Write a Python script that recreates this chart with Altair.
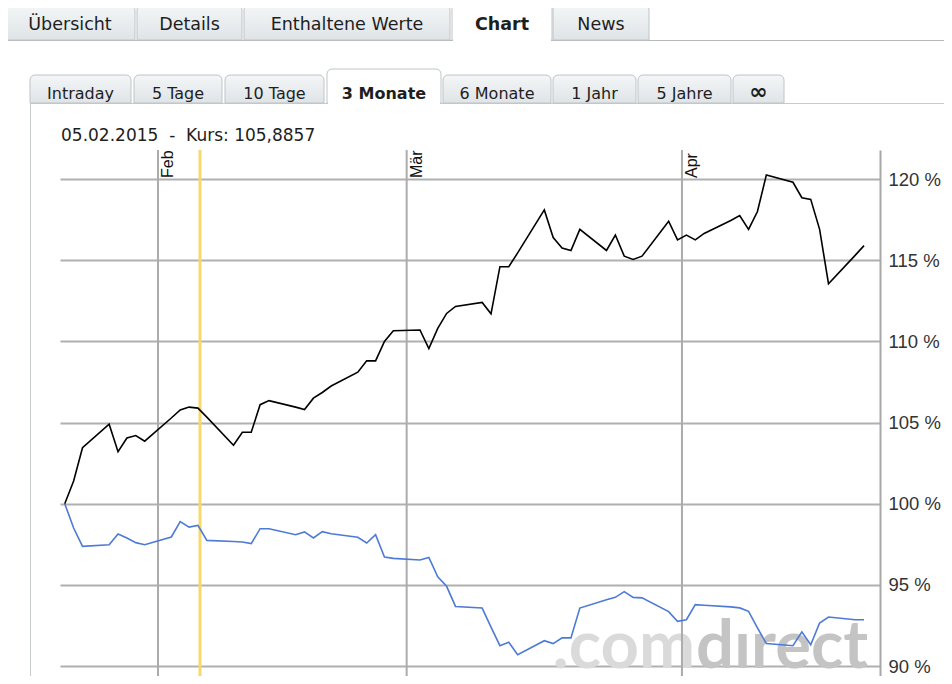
import altair as alt
import pandas as pd

# ---------------- data ----------------
dates = [
    "2015-01-21", "2015-01-22", "2015-01-23", "2015-01-26", "2015-01-27", "2015-01-28", "2015-01-29", "2015-01-30",
    "2015-02-02", "2015-02-03", "2015-02-04", "2015-02-05", "2015-02-06", "2015-02-09", "2015-02-10", "2015-02-11",
    "2015-02-12", "2015-02-13", "2015-02-16", "2015-02-17", "2015-02-18", "2015-02-19", "2015-02-20", "2015-02-23",
    "2015-02-24", "2015-02-25", "2015-02-26", "2015-02-27",
    "2015-03-02", "2015-03-03", "2015-03-04", "2015-03-05", "2015-03-06", "2015-03-09", "2015-03-10", "2015-03-11",
    "2015-03-12", "2015-03-13", "2015-03-16", "2015-03-17", "2015-03-18", "2015-03-19", "2015-03-20", "2015-03-23",
    "2015-03-24", "2015-03-25", "2015-03-26", "2015-03-27", "2015-03-30", "2015-03-31",
    "2015-04-01", "2015-04-02", "2015-04-03", "2015-04-06", "2015-04-07", "2015-04-08", "2015-04-09", "2015-04-10",
    "2015-04-13", "2015-04-14", "2015-04-15", "2015-04-16", "2015-04-17", "2015-04-20", "2015-04-21",
]

kurs_values = [
    100.0, 101.4, 103.45, 104.9, 103.2, 104.05, 104.2, 103.85,
    105.28, 105.78, 105.95, 105.89, 105.33, 103.6, 104.4, 104.4, 106.1, 106.35, 105.95, 105.8,
    106.5, 106.85, 107.25, 108.1, 108.8, 108.8, 110.0, 110.65,
    110.7, 109.55, 110.8, 111.72, 112.15, 112.4, 111.7, 114.6, 114.6, 115.45, 118.1, 116.4,
    115.75, 115.6, 116.9, 115.6, 116.55, 115.25, 115.05, 115.25, 117.4, 116.25,
    116.55, 116.25, 116.65, 117.45, 117.75, 116.9, 118.0, 120.25, 119.8, 118.85, 118.75, 116.9,
    113.55, 115.3, 115.9,
]

vergleich_values = [
    100.0, 98.5, 97.37, 97.47, 98.13, 97.89, 97.6, 97.47,
    97.95, 98.9, 98.56, 98.66, 97.74, 97.67, 97.64, 97.54, 98.46, 98.46, 98.09, 98.26,
    97.89, 98.28, 98.15, 97.93, 97.58, 98.09, 96.72, 96.63,
    96.53, 96.69, 95.5, 94.91, 93.67, 93.57, 92.4, 91.25, 91.46, 90.7, 91.56, 91.38,
    91.73, 91.73, 93.57, 94.08, 94.23, 94.58, 94.23, 94.2, 93.35, 92.75,
    92.85, 93.78, 93.74, 93.64, 93.58, 93.37, 92.35, 91.38, 91.25, 92.1, 91.31, 92.65,
    93.02, 92.85, 92.85,
]

series_names = ["Kurs", "Vergleich"]
series_colors = ["#000000", "#4d7ad6"]

month_starts = ["2015-02-01", "2015-03-01", "2015-04-01"]
month_labels = ["Feb", "Mär", "Apr"]
y_ticks = [90, 95, 100, 105, 110, 115, 120]

cursor_date = "2015-02-05"
cursor_time = "17:30:00"
cursor_label = "05.02.2015"
cursor_kurs = "105,8857"

tab_labels = ["Übersicht", "Details", "Enthaltene Werte", "Chart", "News"]
subtab_labels = ["Intraday", "5 Tage", "10 Tage", "3 Monate", "6 Monate", "1 Jahr", "5 Jahre", "∞"]
watermark_parts = [".com", "dırect"]

# ---------------- layout (page pixels) ----------------
OX, OY = 60, 150          # plot-area origin on the page
W, H = 820, 526
tab_bounds = [(5, 135), (137, 242), (244, 450), (452, 552), (553, 649)]
active_tab = 3
subtab_bounds = [(30, 131), (134, 222), (225, 324), (327, 441), (443, 551), (553, 636), (638, 731), (733, 784)]
active_subtab = 3

x_scale = alt.Scale(domain=[alt.DateTime(year=2015, month=1, date=20, hours=23, minutes=10),
                            alt.DateTime(year=2015, month=4, date=23, hours=7, minutes=12)])
y_scale = alt.Scale(domain=[89.384, 121.79], nice=False, zero=False)

# ---------------- tables ----------------
line_rows = []
for name, vals in zip(series_names, [kurs_values, vergleich_values]):
    for d, v in zip(dates, vals):
        line_rows.append({"t": d + "T12:00:00", "v": v, "s": name})
df_lines = pd.DataFrame(line_rows)

df_months = pd.DataFrame({"m": [m + "T00:00:00" for m in month_starts], "label": month_labels})
df_cursor = pd.DataFrame({"c": [cursor_date + "T" + cursor_time]})


def tab_table(labels, bounds, active, top_inactive, top_active, bottom, base):
    rows = []
    for i, (lab, (l, r)) in enumerate(zip(labels, bounds)):
        rows.append({
            "label": lab,
            "x0": l - OX, "x1": r - OX,
            "y0": (top_active if i == active else top_inactive) - OY,
            "y1": bottom - OY,
            "cx": (l + r) / 2 - OX,
            "by": base - OY,
            "active": i == active,
        })
    return pd.DataFrame(rows)


df_tabs = tab_table(tab_labels, tab_bounds, active_tab, 5, 0, 40, 30)
df_sub = tab_table(subtab_labels, subtab_bounds, active_subtab, 75, 69, 103, 99)

gradient = alt.LinearGradient(
    gradient="linear",
    stops=[alt.GradientStop(color="#f4f6f7", offset=0), alt.GradientStop(color="#dfe4e7", offset=1)],
    x1=0, x2=0, y1=0, y2=1,
)

px = dict(scale=None, axis=None)


def rect_layer(df, fill):
    return alt.Chart(df).mark_rect(
        fill=fill, stroke="#bfc4c7", strokeWidth=1, cornerRadiusTopLeft=5, cornerRadiusTopRight=5
    ).encode(
        x=alt.X("x0:Q", **px), x2="x1:Q", y=alt.Y("y0:Q", **px), y2="y1:Q"
    )


def cover_layer(df):
    return alt.Chart(df).mark_rect(fill="white", strokeWidth=0).encode(
        x=alt.X("cl:Q", **px), x2="cr:Q", y=alt.Y("ct:Q", **px), y2="cb:Q"
    ).transform_calculate(
        cl="datum.x0 + 1", cr="datum.x1 - 1", ct="datum.y1 - 1.5", cb="datum.y1 + 2"
    )


def text_layer(df, size, weight):
    return alt.Chart(df).mark_text(
        font="DejaVu Sans", fontSize=size, fontWeight=weight, color="#1e1e1e",
        align="center", baseline="alphabetic"
    ).encode(x=alt.X("cx:Q", **px), y=alt.Y("by:Q", **px), text="label:N")


layers = []

# chrome lines
layers.append(alt.Chart(df_cursor).mark_rule(color="#b6babd", strokeWidth=1).encode(
    x=alt.value(-OX), x2=alt.value(952 - OX), y=alt.value(40.5 - OY)))
layers.append(alt.Chart(df_cursor).mark_rule(color="#c8cbcd", strokeWidth=1).encode(
    x=alt.value(30 - OX), x2=alt.value(952 - OX), y=alt.value(103.5 - OY)))
layers.append(alt.Chart(df_cursor).mark_rule(color="#c8cbcd", strokeWidth=1).encode(
    x=alt.value(30.5 - OX), y=alt.value(103.5 - OY), y2=alt.value(H)))
layers.append(alt.Chart(df_cursor).mark_rule(color="#dcdfe1", strokeWidth=1).encode(
    x=alt.value(3.5 - OX), y=alt.value(40.5 - OY), y2=alt.value(460 - OY)))

# tabs
for df in (df_tabs, df_sub):
    layers.append(rect_layer(df[~df["active"]], gradient))
    layers.append(rect_layer(df[df["active"]], "white"))
    layers.append(cover_layer(df[df["active"]]))
layers.append(text_layer(df_tabs[~df_tabs["active"]], 17.5, "normal"))
layers.append(text_layer(df_tabs[df_tabs["active"]], 17.5, "bold"))
sub_plain = df_sub[(~df_sub["active"]) & (df_sub["label"] != "∞")]
sub_symbol = df_sub[df_sub["label"] == "∞"]
layers.append(text_layer(sub_plain, 16, "normal"))
layers.append(text_layer(df_sub[df_sub["active"]], 16, "bold"))
layers.append(text_layer(sub_symbol, 22, "bold"))

# header
header = cursor_label + "\u00a0\u00a0-\u00a0\u00a0Kurs: " + cursor_kurs
layers.append(alt.Chart(pd.DataFrame({"txt": [header]})).mark_text(
    font="DejaVu Sans", fontSize=17, color="#1e1e1e", align="left", baseline="alphabetic"
).encode(x=alt.value(61 - OX), y=alt.value(141 - OY), text="txt:N"))

# watermark
layers.append(alt.Chart(pd.DataFrame({"txt": [watermark_parts[0]]})).mark_text(
    font="Lato", fontSize=67, fontWeight="bold", color="#dadada",
    align="right", baseline="alphabetic"
).encode(x=alt.value(695 - OX), y=alt.value(668 - OY), text="txt:N"))
layers.append(alt.Chart(pd.DataFrame({"txt": [watermark_parts[1]]})).mark_text(
    font="Lato", fontSize=67, fontWeight="bold", color="#c4c4c4",
    align="left", baseline="alphabetic"
).encode(x=alt.value(696 - OX), y=alt.value(668 - OY), text="txt:N"))

# month grid lines and labels
layers.append(alt.Chart(df_months).mark_rule(color="#ababab", strokeWidth=2).encode(
    x=alt.X("m:T", scale=x_scale, axis=None), y=alt.value(0), y2=alt.value(H)))
layers.append(alt.Chart(df_months).mark_text(
    font="Liberation Sans", fontSize=16, color="#111111", angle=270, align="left", baseline="top",
    dy=2, clip=True
).encode(x=alt.X("m:T", scale=x_scale, axis=None), y=alt.value(28), text="label:N"))

# cursor
layers.append(alt.Chart(df_cursor).mark_rule(color="#f5d96c", strokeWidth=3).encode(
    x=alt.X("c:T", scale=x_scale, axis=None), y=alt.value(0), y2=alt.value(H)))

# series lines
layers.append(alt.Chart(df_lines).mark_line(strokeWidth=1.6).encode(
    x=alt.X("t:T", scale=x_scale, axis=None),
    y=alt.Y("v:Q", scale=y_scale, axis=alt.Axis(
        orient="right", values=y_ticks, grid=True, gridColor="#b0b0b0", gridWidth=2,
        ticks=False, domain=True, domainColor="#a8a8a8", domainWidth=2,
        labelExpr="datum.value + ' %'", labelFont="Liberation Sans", labelFontSize=18.5,
        labelColor="#333333", labelPadding=8, labelBaseline="middle", title=None)),
    color=alt.Color("s:N", scale=alt.Scale(domain=series_names, range=series_colors), legend=None),
    detail="s:N",
))

chart = alt.layer(*layers).properties(
    width=W, height=H,
    padding={"left": OX - 8, "top": OY - 8, "right": 952 - 16 - (OX - 8) - W, "bottom": 0},
    autosize=alt.AutoSizeParams(type="none"),
    background="white",
).configure_view(strokeWidth=0)

chart.save("out.html", embed_options={"renderer": "svg", "actions": False})
